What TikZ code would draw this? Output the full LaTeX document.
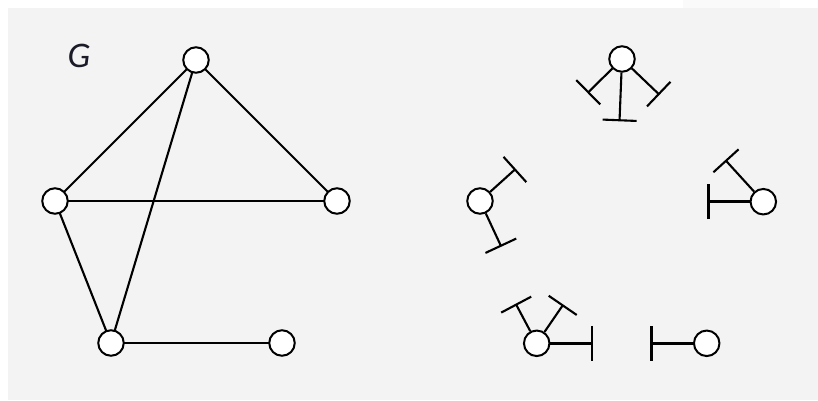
\documentclass[tikz,border=0pt]{standalone}
\usepackage{fontspec}
\newfontfamily\labelfont{Carlito}
\usetikzlibrary{arrows.meta}
\definecolor{bggray}{HTML}{F3F3F3}
\definecolor{patch}{HTML}{FAFAFA}
\definecolor{labelcol}{HTML}{1A1A28}
\tikzset{
  vtx/.style={circle,draw,fill=white,line width=2pt,minimum size=25.5pt,inner sep=0pt},
  edge/.style={line width=2.1pt},
  hedge/.style={line width=2.9pt},
  stub/.style={line width=2.1pt,-{Bar[width=34pt]}},
  hstub/.style={line width=2.8pt,-{Bar[width=35pt]}},
}
\begin{document}
\begin{tikzpicture}[x=1pt,y=-1pt]
\useasboundingbox (0,0) rectangle (818,400);
\fill[white] (0,0) rectangle (818,400);
\fill[patch] (683,0) rectangle (780,8);
\fill[bggray] (8,8) rectangle (818,400);

% left graph G
\node[font=\labelfont\itshape\fontsize{36}{36}\selectfont,text=labelcol] (lab) at (79,56) {G};
\coordinate (t) at (196,60);
\coordinate (l) at (55,201);
\coordinate (r) at (337,201);
\coordinate (bl) at (111,343);
\coordinate (br) at (282,343);
\draw[edge] (t) -- (l);
\draw[edge] (t) -- (r);
\draw[edge] (t) -- (bl);
\draw[hedge] (l) -- (r);
\draw[edge] (l) -- (bl);
\draw[hedge] (bl) -- (br);
\node[vtx] (vt) at (t) {};
\node[vtx] (vl) at (l) {};
\node[vtx] (vr) at (r) {};
\node[vtx] (vbl) at (bl) {};
\node[vtx] (vbr) at (br) {};

% right: split half-edges
\node[vtx] (rt) at (622,59) {};
\node[vtx] (rl) at (480,201) {};
\node[vtx] (rr) at (763.3,201.7) {};
\node[vtx] (rbl) at (536.7,343.3) {};
\node[vtx] (rbr) at (706.7,343.3) {};

\coordinate (a1) at (587.5,93);
\coordinate (a2) at (619.5,121.3);
\coordinate (a3) at (659.5,94.8);
\coordinate (b1) at (515.7,168.8);
\coordinate (b2) at (501.3,246.7);
\coordinate (c1) at (706.7,201.7);
\coordinate (c2) at (725.3,160);
\coordinate (d1) at (515.7,303.7);
\coordinate (d2) at (563.3,304.5);
\coordinate (d3) at (593.3,343.3);
\coordinate (e1) at (650,343.3);

\draw[stub] (rt) -- (a1);
\draw[stub] (rt) -- (a2);
\draw[stub] (rt) -- (a3);
\draw[stub] (rl) -- (b1);
\draw[stub] (rl) -- (b2);
\draw[hstub] (rr) -- (c1);
\draw[stub] (rr) -- (c2);
\draw[stub] (rbl) -- (d1);
\draw[stub] (rbl) -- (d2);
\draw[hstub] (rbl) -- (d3);
\draw[hstub] (rbr) -- (e1);
\end{tikzpicture}
\end{document}
